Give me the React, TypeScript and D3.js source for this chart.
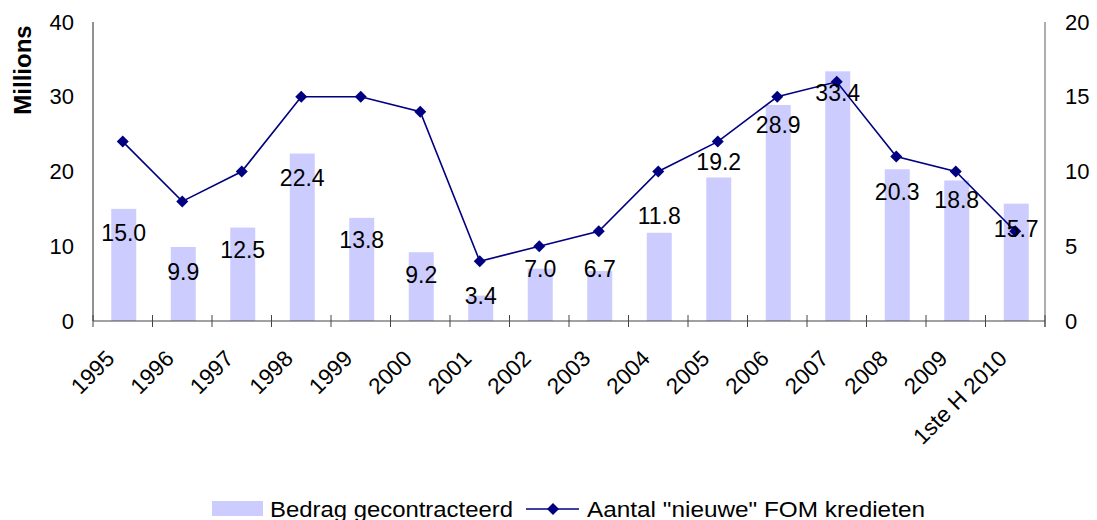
import React from "react";
import * as d3 from "d3";

const categories = ["1995","1996","1997","1998","1999","2000","2001","2002","2003","2004","2005","2006","2007","2008","2009","1ste H 2010"];
const bedrag = [15.0, 9.9, 12.5, 22.4, 13.8, 9.2, 3.4, 7.0, 6.7, 11.8, 19.2, 28.9, 33.4, 20.3, 18.8, 15.7];
const aantal = [12, 8, 10, 15, 15, 14, 4, 5, 6, 10, 12, 15, 16, 11, 10, 6];
const leftTicks = [0, 10, 20, 30, 40];
const rightTicks = [0, 5, 10, 15, 20];
// label nudges (px) relative to bar top, as placed in the original
const labelShift = [24, 25, 22, 24, 22, 23, 0, 0, -2, -17, -15, 20, 22, 23, 20, 25];

const W = 1097, H = 520;
const m = { left: 93, right: 1045, top: 22, bottom: 321 };
const FONT = "Liberation Sans, Arial, sans-serif";

export default function App() {
  const x = d3.scaleBand().domain(categories).range([m.left, m.right]).paddingInner(0).paddingOuter(0);
  const yL = d3.scaleLinear().domain([0, 40]).range([m.bottom, m.top]);
  const yR = d3.scaleLinear().domain([0, 20]).range([m.bottom, m.top]);
  const bw = x.bandwidth();
  const barW = bw * 0.42;
  const cx = (c: string) => (x(c) as number) + bw / 2;
  const line = d3.line<number>().x((_, i) => cx(categories[i])).y((d) => yR(d));
  const diamond = (px: number, py: number, r: number) => `M${px},${py - r}L${px + r},${py}L${px},${py + r}L${px - r},${py}Z`;

  return (
    <svg width={W} height={H} style={{ position: "absolute", left: 0, top: 0, background: "#fff" }} fontFamily={FONT}>
      {/* bars */}
      {bedrag.map((v, i) => (
        <rect key={i} x={cx(categories[i]) - barW / 2 + 1} y={yL(v)} width={barW} height={yL(0) - yL(v)} fill="#CCCCFF" />
      ))}
      {/* line */}
      <path d={line(aantal) || ""} fill="none" stroke="#000080" strokeWidth={1.6} />
      {aantal.map((v, i) => (
        <path key={i} d={diamond(cx(categories[i]), yR(v), 6)} fill="#000080" />
      ))}
      {/* data labels */}
      {bedrag.map((v, i) => (
        <text key={i} x={cx(categories[i]) + 1} y={yL(v) + labelShift[i]} textAnchor="middle" dominantBaseline="central" fontSize={23} fill="#000">
          {v.toFixed(1)}
        </text>
      ))}
      {/* axes */}
      <line x1={m.left} x2={m.left} y1={m.top} y2={m.bottom} stroke="#222" strokeWidth={1} />
      <line x1={m.right} x2={m.right} y1={m.top} y2={m.bottom + 6} stroke="#777" strokeWidth={1.2} />
      <line x1={m.left} x2={m.right} y1={m.bottom} y2={m.bottom} stroke="#444" strokeWidth={1.2} />
      {d3.range(categories.length + 1).map((i) => {
        const px = m.left + i * bw;
        return <line key={i} x1={px} x2={px} y1={m.bottom - 6} y2={m.bottom + 6} stroke="#444" strokeWidth={1} />;
      })}
      {leftTicks.map((t) => (
        <text key={t} x={74} y={yL(t)} textAnchor="end" dominantBaseline="central" fontSize={22} fill="#000">{t}</text>
      ))}
      {rightTicks.map((t) => (
        <text key={t} x={1065} y={yR(t)} textAnchor="start" dominantBaseline="central" fontSize={22} fill="#000">{t}</text>
      ))}
      <text transform="translate(31,70) rotate(-90)" textAnchor="middle" fontSize={24} fontWeight="bold" fill="#000">Millions</text>
      {categories.map((c) => (
        <text key={c} transform={`translate(${cx(c) - 7},${m.bottom + 39}) rotate(-45)`} textAnchor="end" fontSize={22.5} fill="#000">{c}</text>
      ))}
      {/* legend */}
      <rect x={212} y={501} width={51} height={15} fill="#CCCCFF" />
      <text x={270} y={509} dominantBaseline="central" fontSize={22} textLength={243} lengthAdjust="spacingAndGlyphs" fill="#000">Bedrag gecontracteerd</text>
      <line x1={526} x2={579} y1={509} y2={509} stroke="#000080" strokeWidth={1.6} />
      <path d={diamond(553, 509, 6)} fill="#000080" />
      <text x={587} y={509} dominantBaseline="central" fontSize={22} textLength={338} lengthAdjust="spacingAndGlyphs" fill="#000">Aantal "nieuwe" FOM kredieten</text>
    </svg>
  );
}
